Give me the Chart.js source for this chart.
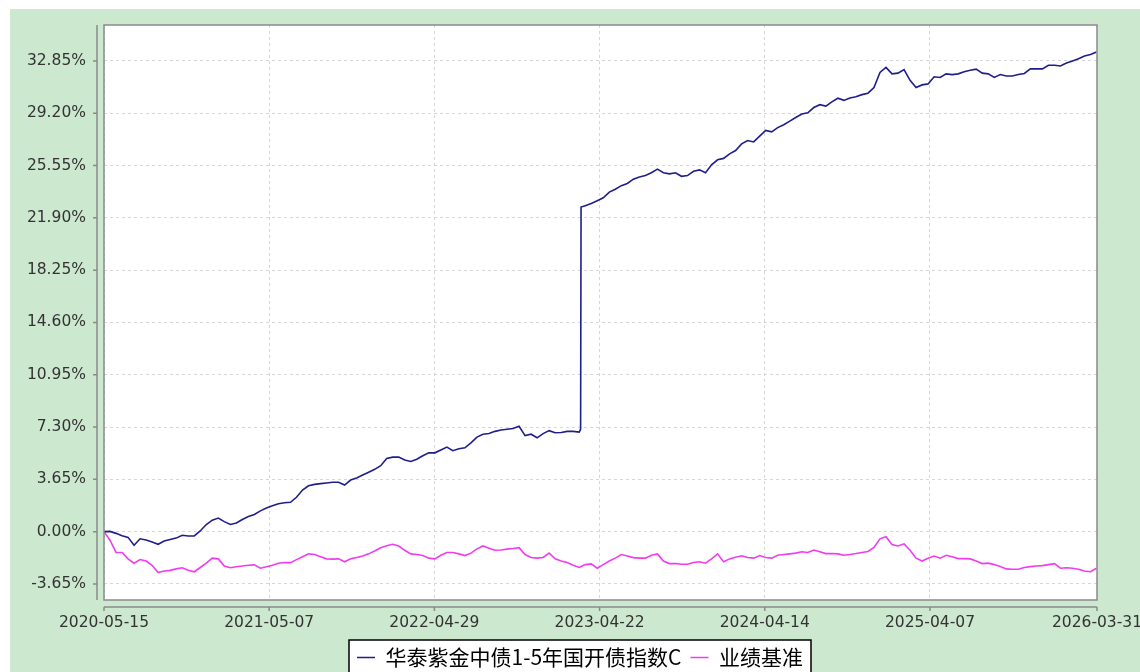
<!DOCTYPE html>
<html>
<head>
<meta charset="utf-8">
<script src="https://cdn.jsdelivr.net/npm/chart.js@4.4.1/dist/chart.umd.min.js"></script>
<style>
    html, body { margin: 0; padding: 0; background: #fff; }
    #wrap { width: 1140px; height: 672px; }
</style>
</head>
<body>
<div id="wrap"><canvas id="navChart" width="1140" height="672"></canvas></div>
<script>
// 净值增长率走势 (%), 每 13 天取一个点
const SERIES_NAMES = ['华泰紫金中债1-5年国开债指数C', '业绩基准'];
const SAMPLE_STEP = 13;
const TOTAL_DAYS = 2146;

const X_TICK_DAYS = [0, 357, 714, 1071, 1428, 1785, 2146];
const X_TICK_LABELS = ['2020-05-15', '2021-05-07', '2022-04-29', '2023-04-22', '2024-04-14', '2025-04-07', '2026-03-31'];
const Y_TICKS = [-3.65, 0, 3.65, 7.3, 10.95, 14.6, 18.25, 21.9, 25.55, 29.2, 32.85];

const fundValues = [
    0, 0.02, -0.12, -0.28, -0.4, -0.95, -0.5, -0.58, -0.72, -0.88,
    -0.65, -0.55, -0.45, -0.25, -0.3, -0.3, 0.05, 0.5, 0.8, 0.95,
    0.7, 0.5, 0.6, 0.85, 1.05, 1.2, 1.45, 1.65, 1.8, 1.95,
    2.02, 2.05, 2.4, 2.9, 3.2, 3.3, 3.35, 3.4, 3.45, 3.45,
    3.25, 3.6, 3.75, 3.95, 4.15, 4.35, 4.6, 5.1, 5.2, 5.2,
    5.0, 4.9, 5.05, 5.3, 5.5, 5.5, 5.7, 5.9, 5.65, 5.78,
    5.85, 6.2, 6.6, 6.8, 6.85, 7.0, 7.1, 7.15, 7.2, 7.35,
    6.7, 6.8, 6.55, 6.84, 7.05, 6.9, 6.92, 7.0, 7.0, 6.95,
    22.75, 22.9, 23.1, 23.3, 23.7, 23.9, 24.15, 24.3, 24.6, 24.75,
    24.85, 25.05, 25.3, 25.05, 24.97, 25.05, 24.8, 24.85, 25.15, 25.25,
    25.05, 25.6, 25.95, 26.05, 26.37, 26.6, 27.06, 27.3, 27.2, 27.6,
    28.0, 27.9, 28.2, 28.4, 28.65, 28.9, 29.15, 29.23, 29.6, 29.8,
    29.7, 30.0, 30.25, 30.1, 30.27, 30.35, 30.5, 30.6, 31.0, 32.05,
    32.4, 31.95, 32.0, 32.25, 31.5, 31.0, 31.18, 31.25, 31.75, 31.7,
    31.95, 31.9, 31.95, 32.1, 32.2, 32.28, 32.0, 31.95, 31.7, 31.9,
    31.8, 31.8, 31.9, 31.98, 32.3, 32.3, 32.3, 32.55, 32.55, 32.5,
    32.7, 32.85, 33.0, 33.2, 33.3, 33.48
];

// 2023-03 的跳升 (前后两天)
const jumpDays = [1030, 1031];
const jumpValues = [7.15, 22.65];

const benchValues = [
    0, -0.6, -1.45, -1.45, -1.9, -2.2, -1.95, -2.05, -2.35, -2.85,
    -2.75, -2.7, -2.6, -2.52, -2.7, -2.8, -2.5, -2.2, -1.85, -1.9,
    -2.4, -2.52, -2.45, -2.4, -2.35, -2.32, -2.55, -2.45, -2.35, -2.2,
    -2.15, -2.16, -1.95, -1.75, -1.55, -1.6, -1.75, -1.9, -1.92, -1.9,
    -2.1, -1.9, -1.8, -1.7, -1.55, -1.35, -1.12, -0.98, -0.88, -1.0,
    -1.3, -1.55, -1.6, -1.67, -1.85, -1.9, -1.65, -1.45, -1.45, -1.55,
    -1.67, -1.5, -1.2, -1.0, -1.15, -1.3, -1.28, -1.22, -1.18, -1.12,
    -1.6, -1.8, -1.85, -1.8, -1.5, -1.9, -2.05, -2.15, -2.35, -2.5,
    -2.3, -2.25, -2.55, -2.3, -2.05, -1.85, -1.6, -1.7, -1.81, -1.85,
    -1.85, -1.65, -1.55, -2.05, -2.23, -2.22, -2.28, -2.28, -2.15, -2.1,
    -2.2, -1.9, -1.55, -2.1, -1.9, -1.78, -1.68, -1.8, -1.85, -1.67,
    -1.8, -1.85, -1.65, -1.6, -1.55, -1.5, -1.4, -1.45, -1.28, -1.4,
    -1.53, -1.53, -1.55, -1.65, -1.6, -1.53, -1.45, -1.38, -1.1, -0.5,
    -0.35, -0.9, -1.0, -0.85, -1.3, -1.85, -2.05, -1.85, -1.7, -1.85,
    -1.65, -1.75, -1.88, -1.88, -1.9, -2.05, -2.23, -2.2, -2.3, -2.44,
    -2.6, -2.62, -2.62, -2.5, -2.44, -2.4, -2.37, -2.3, -2.23, -2.55,
    -2.52, -2.55, -2.62, -2.75, -2.8, -2.55
];

const FUND_COLOR = '#1e1e8c';
const BENCH_COLOR = '#f03cf0';
const TICK_FONT = { family: "'DejaVu Sans', sans-serif", size: 15.5 };
const LEGEND_CENTER_X = 580;

function toPoints(values) {
    return values.map((v, i) => ({ x: i * SAMPLE_STEP, y: v }));
}

const fundPoints = toPoints(fundValues)
    .concat(jumpDays.map((d, i) => ({ x: d, y: jumpValues[i] })))
    .sort((a, b) => a.x - b.x);
const benchPoints = toPoints(benchValues);

// 背景、绘图区边框、偏移的坐标轴和图例框
const frameAndAxes = {
    id: 'frameAndAxes',
    afterLayout(chart) {
        // 图例整体右移, 与原图居中位置一致
        const lg = chart.legend;
        const shift = LEGEND_CENTER_X - (lg.left + lg.right) / 2;
        lg.left += shift;
        lg.right += shift;
    },
    beforeDraw(chart) {
        const { ctx, width, height, chartArea: a } = chart;
        ctx.save();
        ctx.fillStyle = '#ffffff';
        ctx.fillRect(0, 0, width, height);
        ctx.fillStyle = '#cce8cf';
        ctx.fillRect(10, 9, width - 10, height - 9);
        ctx.fillStyle = '#ffffff';
        ctx.fillRect(a.left, a.top, a.right - a.left, a.bottom - a.top);

        const hb = chart.legend.legendHitBoxes;
        if (hb && hb.length) {
            const last = hb[hb.length - 1];
            const bx = hb[0].left - 8;
            const by = hb[0].top - 7;
            const bw = last.left + last.width + 8 - bx;
            ctx.fillStyle = '#ffffff';
            ctx.fillRect(bx, by, bw, height - by + 10);
            ctx.strokeStyle = '#000000';
            ctx.lineWidth = 1.5;
            ctx.strokeRect(bx, by, bw, height - by + 10);
        }
        ctx.restore();
    },
    afterDraw(chart) {
        const { ctx, chartArea: a, scales: { x, y } } = chart;
        ctx.save();
        ctx.strokeStyle = '#8a8a8a';
        ctx.lineWidth = 1.5;
        ctx.strokeRect(a.left, a.top, a.right - a.left, a.bottom - a.top);

        ctx.beginPath();
        ctx.moveTo(a.left - 7, a.top);
        ctx.lineTo(a.left - 7, a.bottom);
        y.ticks.forEach(t => {
            const py = y.getPixelForValue(t.value);
            ctx.moveTo(a.left - 11, py);
            ctx.lineTo(a.left - 7, py);
        });
        ctx.moveTo(a.left, a.bottom + 7);
        ctx.lineTo(a.right, a.bottom + 7);
        x.ticks.forEach(t => {
            const px = x.getPixelForValue(t.value);
            ctx.moveTo(px, a.bottom + 7);
            ctx.lineTo(px, a.bottom + 11);
        });
        ctx.stroke();
        ctx.restore();
    }
};

new Chart(document.getElementById('navChart'), {
    type: 'line',
    data: {
        datasets: [
            {
                label: SERIES_NAMES[0],
                data: fundPoints,
                borderColor: FUND_COLOR,
                backgroundColor: FUND_COLOR,
                borderWidth: 1.6,
                pointRadius: 0,
                tension: 0
            },
            {
                label: SERIES_NAMES[1],
                data: benchPoints,
                borderColor: BENCH_COLOR,
                backgroundColor: BENCH_COLOR,
                borderWidth: 1.6,
                pointRadius: 0,
                tension: 0
            }
        ]
    },
    options: {
        responsive: false,
        animation: false,
        layout: { padding: { left: 10, top: 25, right: 43, bottom: -6 } },
        plugins: {
            legend: {
                position: 'bottom',
                labels: {
                    usePointStyle: true,
                    pointStyle: 'line',
                    pointStyleWidth: 18,
                    padding: 9,
                    color: '#000',
                    font: { family: "'Noto Sans CJK SC', sans-serif", size: 21 }
                }
            },
            tooltip: { enabled: false }
        },
        scales: {
            x: {
                type: 'linear',
                min: 0,
                max: TOTAL_DAYS,
                afterBuildTicks: s => { s.ticks = X_TICK_DAYS.map(v => ({ value: v })); },
                afterFit: s => { s.height = 38; s.paddingLeft = 0; s.paddingRight = 0; },
                ticks: {
                    autoSkip: false,
                    maxRotation: 0,
                    padding: 14,
                    color: '#333',
                    font: TICK_FONT,
                    callback: (v, i) => X_TICK_LABELS[i]
                },
                grid: { color: '#d6d6d6', drawTicks: false },
                border: { display: false, dash: [3, 3] }
            },
            y: {
                min: -4.77,
                max: 35.36,
                afterBuildTicks: s => { s.ticks = Y_TICKS.map(v => ({ value: v })); },
                afterFit: s => { s.width = 94; s.paddingTop = 0; s.paddingBottom = 0; },
                ticks: {
                    padding: 18,
                    color: '#333',
                    font: TICK_FONT,
                    callback: v => v.toFixed(2) + '%'
                },
                grid: { color: '#d6d6d6', drawTicks: false },
                border: { display: false, dash: [3, 3] }
            }
        }
    },
    plugins: [frameAndAxes]
});
</script>
</body>
</html>
